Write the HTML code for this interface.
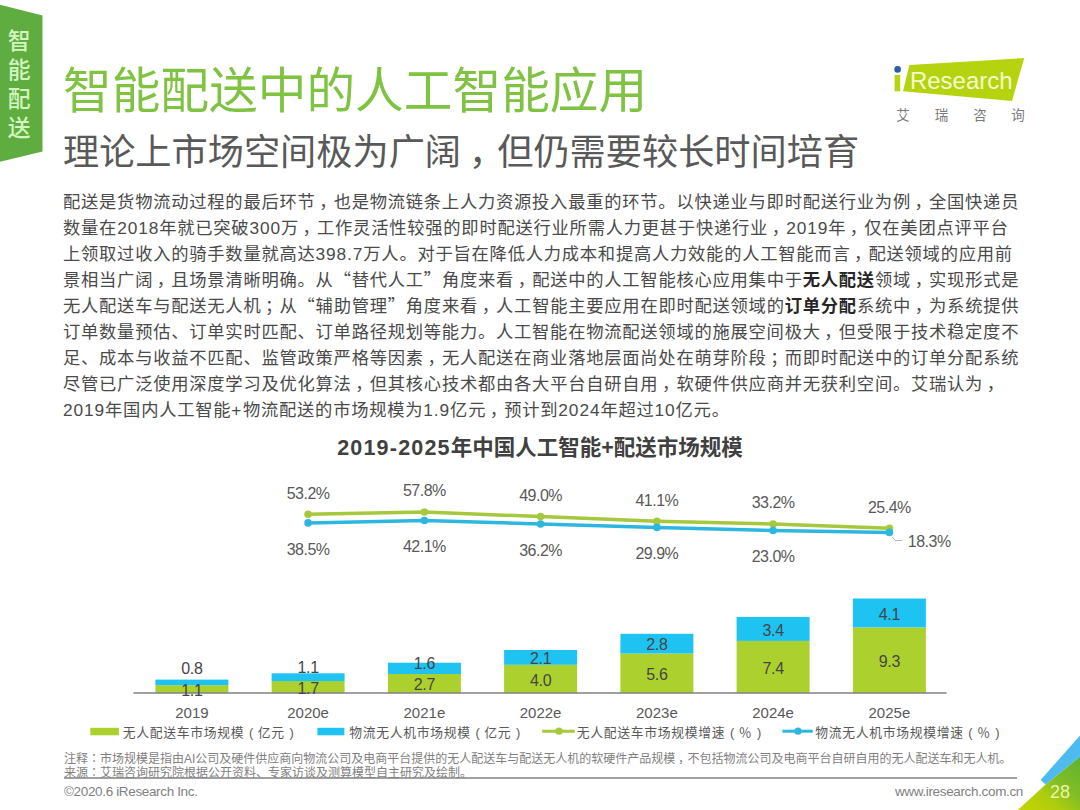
<!DOCTYPE html>
<html lang="zh-CN">
<head>
<meta charset="utf-8">
<title>智能配送中的人工智能应用</title>
<style>
html,body{margin:0;padding:0;background:#fff;}
*{text-spacing-trim:space-all;}
#page{position:relative;width:1080px;height:810px;overflow:hidden;background:#fff;
  font-family:"Liberation Sans","Noto Sans CJK SC",sans-serif;}
.abs{position:absolute;white-space:nowrap;}
#tabtxt{left:7.7px;top:26.3px;width:23px;font-size:22.8px;line-height:28.8px;color:#d3f5bf;font-weight:500;
  font-family:"Noto Sans CJK SC",sans-serif;text-align:center;}
#title{left:63px;top:57.2px;font-size:48.7px;line-height:60px;color:#80c342;
  font-family:"Noto Sans CJK SC",sans-serif;}
#subtitle{left:63px;top:126px;font-size:36.2px;line-height:46px;color:#595959;
  font-family:"Noto Sans CJK SC",sans-serif;}
#body{left:63px;top:189px;font-size:17.3px;line-height:26px;color:#4a4a4a;letter-spacing:0.76px;}
.tp{font-family:"Noto Sans CJK TC",sans-serif;line-height:0;}
.tc{position:relative;left:0.21em;}
.q{font-family:"Noto Sans CJK SC",sans-serif;line-height:0;}
.n{letter-spacing:0.9px;}
.p{letter-spacing:1.5px;}
.ln{height:26px;overflow:visible;white-space:nowrap;}
#body b{font-weight:bold;color:#262626;}
#ctitle{left:0;width:1080px;text-align:center;top:432.5px;font-size:21.5px;line-height:30px;font-weight:bold;color:#404040;}
svg{position:absolute;left:0;top:0;}
.cn{letter-spacing:1.2px;}
.cp{letter-spacing:0;}
.leg{top:722.8px;font-size:12.8px;letter-spacing:0.7px;line-height:18px;color:#595959;font-family:"Noto Sans CJK SC",sans-serif;}
.note{left:64px;margin-top:1.5px;font-size:12px;line-height:16px;color:#7f7f7f;font-family:"Liberation Sans","Noto Sans CJK SC",sans-serif;}
.pc{display:inline-block;width:calc(1em + 0.7px);letter-spacing:0;text-align:center;font-family:"Liberation Sans",sans-serif;}
.foot{top:783px;font-size:13.5px;letter-spacing:-0.35px;line-height:18px;color:#7f7f7f;}
</style>
</head>
<body>
<div id="page">
<svg width="1080" height="810" viewBox="0 0 1080 810">
  <!-- left tab -->
  <polygon points="0,4.7 42.5,15.5 42.5,151.4 0,161.7" fill="#5fad41"/>
  <!--CHART-->
<rect x="155.4" y="685.2" width="73" height="7.8" fill="#acd12f"/>
<rect x="155.4" y="679.6" width="73" height="5.6" fill="#1fc3f1"/>
<rect x="271.6" y="681.0" width="73" height="12.0" fill="#acd12f"/>
<rect x="271.6" y="673.3" width="73" height="7.8" fill="#1fc3f1"/>
<rect x="387.9" y="674.0" width="73" height="19.0" fill="#acd12f"/>
<rect x="387.9" y="662.7" width="73" height="11.3" fill="#1fc3f1"/>
<rect x="504.1" y="664.8" width="73" height="28.2" fill="#acd12f"/>
<rect x="504.1" y="650.0" width="73" height="14.8" fill="#1fc3f1"/>
<rect x="620.4" y="653.5" width="73" height="39.5" fill="#acd12f"/>
<rect x="620.4" y="633.8" width="73" height="19.7" fill="#1fc3f1"/>
<rect x="736.6" y="640.8" width="73" height="52.2" fill="#acd12f"/>
<rect x="736.6" y="616.9" width="73" height="24.0" fill="#1fc3f1"/>
<rect x="852.9" y="627.4" width="73" height="65.6" fill="#acd12f"/>
<rect x="852.9" y="598.5" width="73" height="28.9" fill="#1fc3f1"/>
<line x1="133.5" y1="693" x2="946.5" y2="693" stroke="#808080" stroke-width="1.6"/>
<g font-family="Liberation Sans, Noto Sans CJK SC, sans-serif" font-size="16" letter-spacing="-0.3" fill="#454545" text-anchor="middle"><text x="191.9" y="696.0">1.1</text><text x="191.9" y="674.4">0.8</text><text x="308.1" y="693.7">1.7</text><text x="308.1" y="672.6">1.1</text><text x="424.4" y="690.2">2.7</text><text x="424.4" y="668.5">1.6</text><text x="540.6" y="685.6">4.0</text><text x="540.6" y="664.1">2.1</text><text x="656.9" y="680.0">5.6</text><text x="656.9" y="650.4">2.8</text><text x="773.1" y="673.6">7.4</text><text x="773.1" y="635.5">3.4</text><text x="889.4" y="666.9">9.3</text><text x="889.4" y="619.7">4.1</text></g>
<g font-family="Liberation Sans, Noto Sans CJK SC, sans-serif" font-size="15" fill="#595959" text-anchor="middle"><text x="191.9" y="717.8">2019</text><text x="308.1" y="717.8">2020e</text><text x="424.4" y="717.8">2021e</text><text x="540.6" y="717.8">2022e</text><text x="656.9" y="717.8">2023e</text><text x="773.1" y="717.8">2024e</text><text x="889.4" y="717.8">2025e</text></g>
<polyline points="308.1,514.3 424.4,512.0 540.6,516.6 656.9,521.2 773.1,524.0 889.4,528.3" fill="none" stroke="#a6c83c" stroke-width="3.5" stroke-linejoin="round"/>
<polyline points="308.1,522.9 424.4,520.5 540.6,524.0 656.9,527.4 773.1,530.5 889.4,532.4" fill="none" stroke="#2db7e0" stroke-width="3.5" stroke-linejoin="round"/>
<circle cx="308.1" cy="514.3" r="3.8" fill="#a6c83c"/>
<circle cx="424.4" cy="512.0" r="3.8" fill="#a6c83c"/>
<circle cx="540.6" cy="516.6" r="3.8" fill="#a6c83c"/>
<circle cx="656.9" cy="521.2" r="3.8" fill="#a6c83c"/>
<circle cx="773.1" cy="524.0" r="3.8" fill="#a6c83c"/>
<circle cx="889.4" cy="528.3" r="3.8" fill="#a6c83c"/>
<circle cx="308.1" cy="522.9" r="3.8" fill="#2db7e0"/>
<circle cx="424.4" cy="520.5" r="3.8" fill="#2db7e0"/>
<circle cx="540.6" cy="524.0" r="3.8" fill="#2db7e0"/>
<circle cx="656.9" cy="527.4" r="3.8" fill="#2db7e0"/>
<circle cx="773.1" cy="530.5" r="3.8" fill="#2db7e0"/>
<circle cx="889.4" cy="532.4" r="3.8" fill="#2db7e0"/>
<polyline points="892.4,537 895,540.5 902,540.5" fill="none" stroke="#a0a0a0" stroke-width="0.8"/>
<g font-family="Liberation Sans, Noto Sans CJK SC, sans-serif" font-size="16" letter-spacing="-0.5" fill="#595959" text-anchor="middle"><text x="308.1" y="498.6">53.2%</text><text x="424.4" y="496.3">57.8%</text><text x="540.6" y="500.9">49.0%</text><text x="656.9" y="505.5">41.1%</text><text x="773.1" y="508.3">33.2%</text><text x="889.4" y="512.6">25.4%</text><text x="308.1" y="554.7">38.5%</text><text x="424.4" y="552.3">42.1%</text><text x="540.6" y="555.8">36.2%</text><text x="656.9" y="559.2">29.9%</text><text x="773.1" y="562.3">23.0%</text></g>
<text x="907.8" y="547" font-family="Liberation Sans, Noto Sans CJK SC, sans-serif" font-size="16" letter-spacing="-0.5" fill="#595959">18.3%</text>

  <!--/CHART-->
  <!-- logo -->
  <circle cx="897.6" cy="69.4" r="3.3" fill="#2b5ca8"/>
  <rect x="894.6" y="75" width="5.6" height="16.3" fill="#b5d40f"/>
  <polygon points="909.4,65 1024.2,58 1012,101 903,91.3" fill="#b5d40f"/>
  <text x="910" y="89.2" font-family="Liberation Sans, sans-serif" font-size="24.5" fill="#f4fcce" textLength="102.5" lengthAdjust="spacingAndGlyphs">Research</text>
  <g font-family="Noto Sans CJK SC, sans-serif" font-size="13.5" fill="#7a7a7a" text-anchor="middle">
    <text x="903" y="119.5">艾</text><text x="941.5" y="119.5">瑞</text><text x="980" y="119.5">咨</text><text x="1018" y="119.5">询</text>
  </g>
  <!-- legend -->
  <rect x="90.3" y="727.8" width="28.6" height="7.5" fill="#acd12f"/>
  <rect x="317.4" y="727.8" width="27" height="7.5" fill="#1fc3f1"/>
  <line x1="542.2" y1="731.2" x2="574.8" y2="731.2" stroke="#a6c83c" stroke-width="3"/>
  <circle cx="559" cy="731.2" r="3.6" fill="#a6c83c"/>
  <line x1="782.4" y1="731.2" x2="812.8" y2="731.2" stroke="#2db7e0" stroke-width="3"/>
  <circle cx="798" cy="731.2" r="3.6" fill="#2db7e0"/>
  <!-- footer rule -->
  <line x1="64" y1="778" x2="1017" y2="778" stroke="#808080" stroke-width="1.5"/>
  <!-- corner -->
  <defs>
    <linearGradient id="cg" x1="0" y1="1" x2="1" y2="0">
      <stop offset="0" stop-color="#c8d400"/>
      <stop offset="0.35" stop-color="#aecd0e"/>
      <stop offset="0.6" stop-color="#82bd26"/>
      <stop offset="1" stop-color="#5fb22f"/>
    </linearGradient>
  </defs>
  <polygon points="1017.8,810 1045.6,784.4 1080,756.5 1080,810" fill="url(#cg)"/>
  <polygon points="1040.6,780 1080,735.6 1080,756.5 1045.6,784.4" fill="#4dbaf0"/>
  <text x="1050" y="797.8" font-family="Liberation Sans, sans-serif" font-size="18" fill="#eaf5a6">28</text>
</svg>
<div id="tabtxt" class="abs">智<br>能<br>配<br>送</div>
<div id="title" class="abs">智能配送中的人工智能应用</div>
<div id="subtitle" class="abs">理论上市场空间极为广阔<span class="tc">，</span>但仍需要较长时间培育</div>
<div id="body" class="abs">
<div class="ln">配送是货物流动过程的最后环节<span class="tc">，</span>也是物流链条上人力资源投入最重的环节。以快递业与即时配送行业为例<span class="tc">，</span>全国快递员</div>
<div class="ln">数量在<span class="n">2018</span>年就已突破<span class="n">300</span>万<span class="tc">，</span>工作灵活性较强的即时配送行业所需人力更甚于快递行业<span class="tc">，</span><span class="n">2019</span>年<span class="tc">，</span>仅在美团点评平台</div>
<div class="ln">上领取过收入的骑手数量就高达<span class="n">398.7</span>万人。对于旨在降低人力成本和提高人力效能的人工智能而言<span class="tc">，</span>配送领域的应用前</div>
<div class="ln">景相当广阔<span class="tc">，</span>且场景清晰明确。从<span class="q">“</span>替代人工<span class="q">”</span>角度来看<span class="tc">，</span>配送中的人工智能核心应用集中于<b>无人配送</b>领域<span class="tc">，</span>实现形式是</div>
<div class="ln">无人配送车与配送无人机<span class="tc">；</span>从<span class="q">“</span>辅助管理<span class="q">”</span>角度来看<span class="tc">，</span>人工智能主要应用在即时配送领域的<b>订单分配</b>系统中<span class="tc">，</span>为系统提供</div>
<div class="ln">订单数量预估、订单实时匹配、订单路径规划等能力。人工智能在物流配送领域的施展空间极大<span class="tc">，</span>但受限于技术稳定度不</div>
<div class="ln">足、成本与收益不匹配、监管政策严格等因素<span class="tc">，</span>无人配送在商业落地层面尚处在萌芽阶段<span class="tc">；</span>而即时配送中的订单分配系统</div>
<div class="ln">尽管已广泛使用深度学习及优化算法<span class="tc">，</span>但其核心技术都由各大平台自研自用<span class="tc">，</span>软硬件供应商并无获利空间。艾瑞认为<span class="tc">，</span></div>
<div class="ln"><span class="n">2019</span>年国内人工智能<span class="p">+</span>物流配送的市场规模为<span class="n">1.9</span>亿元<span class="tc">，</span>预计到<span class="n">2024</span>年超过<span class="n">10</span>亿元。</div>
</div>
<div id="ctitle" class="abs"><span class="cn">2019-2025</span>年中国人工智能<span class="cp">+</span>配送市场规模</div>
<div class="abs leg" style="left:122.8px;">无人配送车市场规模<span class="pc">(</span>亿元<span class="pc">)</span></div>
<div class="abs leg" style="left:349.3px;">物流无人机市场规模<span class="pc">(</span>亿元<span class="pc">)</span></div>
<div class="abs leg" style="left:576.8px;">无人配送车市场规模增速<span class="pc">(</span>％<span class="pc">)</span></div>
<div class="abs leg" style="left:815.2px;">物流无人机市场规模增速<span class="pc">(</span>％<span class="pc">)</span></div>
<div class="abs note" style="top:749px;">注释<span class="tp" lang="zh-TW">：</span>市场规模是指由AI公司及硬件供应商向物流公司及电商平台提供的无人配送车与配送无人机的软硬件产品规模<span class="tc">，</span>不包括物流公司及电商平台自研自用的无人配送车和无人机。</div>
<div class="abs note" style="top:763px;">来源<span class="tp" lang="zh-TW">：</span>艾瑞咨询研究院根据公开资料、专家访谈及测算模型自主研究及绘制。</div>
<div class="abs foot" style="left:64px;">©2020.6 iResearch Inc.</div>
<div class="abs foot" style="right:57px;">www.iresearch.com.cn</div>
</div>
</body>
</html>
